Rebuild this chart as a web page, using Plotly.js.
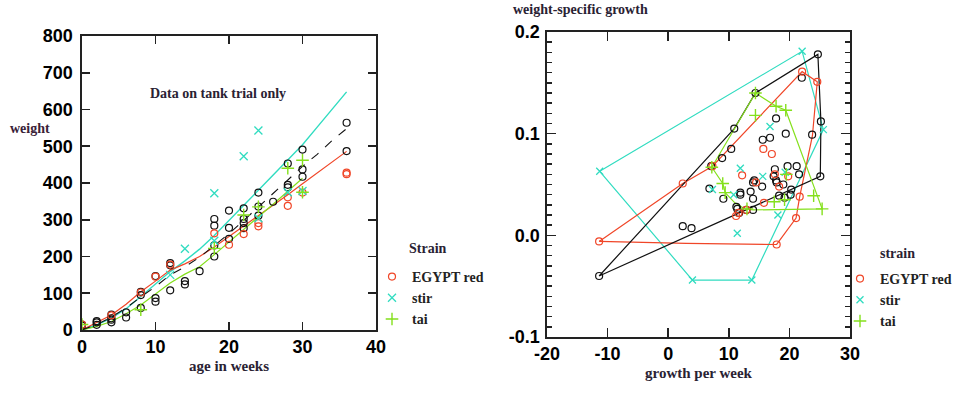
<!DOCTYPE html>
<html>
<head>
<meta charset="utf-8">
<script src="https://cdn.plot.ly/plotly-3.0.1.min.js"></script>
<style>html,body{margin:0;padding:0;background:#fff;}#chart{width:960px;height:393px;}</style>
</head>
<body>
<div id="chart"></div>
<script>
// ---------- Left panel: weight vs age ----------
const fitWeeks = [0,2,4,6,8,10,12,14,16,18,20,22,24,26,28,30,32,34,36];
const stirFit  = [0,14,32,58,91,125,159,188,220,257,298,339,380,421,462,504,552,600,648];
const egyptFit = [0,20,41,70,104,133,163,180,200,226,254,282,310,339,368,398,428,457,486];
const allFit   = [0,15,35,60,90,118,150,172,198,230,262,298,335,372,408,445,478,515,548];
const taiFitWeeks = [0,2,4,6,8,10,12,14,16,18,20,22,24,26,28,30];
const taiFit   = [0,10,23,44,68,97,128,152,172,205,240,274,308,342,377,413];

const allAge    = [0,0,2,2,2,4,4,4,4,6,6,8,8,8,10,10,10,12,12,12,14,14,16,18,18,18,18,20,20,20,22,22,22,22,24,24,24,26,28,28,28,30,30,30,36,36];
const allWeight = [15,12,21,14,24,42,32,21,28,48,34,104,95,60,147,87,77,182,176,108,133,124,160,302,284,230,200,325,278,248,331,302,291,277,374,336,311,349,453,395,388,491,437,417,564,487];
const egyptAge    = [0,4,8,10,12,18,20,22,24,24,28,28,30,36,36];
const egyptWeight = [15,40,102,145,178,263,232,261,291,282,361,338,374,428,424];
const stirAge    = [12,14,18,18,22,24,24,28,30];
const stirWeight = [150,221,372,243,473,543,304,375,378];
const taiAge    = [0,8,18,22,24,28,30,30];
const taiWeight = [15,55,222,313,335,440,462,375];

// ---------- Right panel: weight-specific growth vs growth per week ----------
const allGrowth = [24.7,22.05,25.2,23.75,17.8,19.4,16.8,15.6,10.9,14.4,10.4,8.9,7.1,6.8,9.1,11.9,11.9,14.2,14.0,13.6,14.0,15.5,17.6,17.4,17.8,17.9,19.0,19.7,21.2,21.6,20.3,19.2,18.3,20.2,25.1,11.25,11.4,11.7,12.9,14.0,2.4,3.85,-11.4];
const allSpec   = [0.178,0.155,0.112,0.099,0.115,0.100,0.096,0.094,0.105,0.140,0.085,0.076,0.068,0.046,0.036,0.042,0.040,0.054,0.052,0.043,0.036,0.048,0.065,0.058,0.054,0.052,0.050,0.068,0.068,0.060,0.045,0.037,0.039,0.040,0.058,0.028,0.026,0.022,0.025,0.025,0.009,0.007,-0.040];
const allHullX = [-11.4,10.9,14.4,24.7,25.2,25.1,-11.4];
const allHullY = [-0.040,0.105,0.140,0.178,0.112,0.058,-0.040];

const egyptGrowth = [-11.4,2.4,7.3,22.1,24.6,15.7,17.1,12.2,19.8,18.3,14.5,15.8,11.6,11.2,21.7,21.1,17.9,12.9,17.6];
const egyptSpec   = [-0.006,0.051,0.068,0.161,0.151,0.085,0.080,0.059,0.058,0.048,0.052,0.032,0.022,0.019,0.038,0.017,-0.009,0.025,0.060];
const egyptHullX = [-11.4,2.4,7.3,22.1,24.6,23.8,21.7,21.1,17.9,3.0,-11.4];
const egyptHullY = [-0.006,0.051,0.068,0.161,0.151,0.098,0.038,0.017,-0.009,-0.008,-0.006];

const stirGrowth = [-11.3,22.1,25.6,13.8,4.0,16.8,11.9,15.6,11.4,18.1,7.3,19.3,10.8];
const stirSpec   = [0.063,0.181,0.104,-0.044,-0.044,0.107,0.066,0.058,0.002,0.020,0.045,0.062,0.040];
const stirHullX = [-11.3,22.1,25.6,13.8,4.0,-11.3];
const stirHullY = [0.063,0.181,0.104,-0.044,-0.044,0.063];

const taiGrowth = [7.2,14.4,17.8,19.4,25.4,24.0,9.0,9.4,17.5,19.2,19.5,13.0,14.4];
const taiSpec   = [0.067,0.118,0.127,0.123,0.026,0.039,0.051,0.042,0.033,0.035,0.060,0.026,0.140];
const taiHullX = [7.2,14.4,17.8,19.4,25.4,14.0,12.7,11.0,9.4,9.0,7.2];
const taiHullY = [0.067,0.140,0.127,0.123,0.026,0.025,0.026,0.032,0.042,0.051,0.067];

const yTick2Vals = [-0.1,0,0.1,0.2];
const yTick2Text = ['-0.1','0.0','0.1','0.2'];
const xTick2Vals = [-20,-10,0,10,20,30];
const xTick2Text = ['-20','-10','0','10','20','30'];

// ---------- styles ----------
const RED = '#f04628', CYAN = '#30dcc0', GREEN = '#84e01c', BLACK = '#111';
const serif = 'Liberation Serif, Times New Roman, serif';
const tickFont = {family:'Liberation Sans Narrow, Liberation Sans, Arial, sans-serif', size:18, color:'#000', weight:'bold'};
const txtFont = {family:serif, size:15, color:'#2a2233', weight:'bold'};

function circ(color){ return {symbol:'circle-open', size:7, color:color, line:{width:1.2, color:color}}; }

const traces = [
  // left fits
  {x:fitWeeks, y:stirFit, mode:'lines', line:{color:CYAN, width:1.4}, showlegend:false, xaxis:'x', yaxis:'y', hoverinfo:'skip'},
  {x:fitWeeks, y:egyptFit, mode:'lines', line:{color:RED, width:1.2}, showlegend:false, xaxis:'x', yaxis:'y', hoverinfo:'skip'},
  {x:taiFitWeeks, y:taiFit, mode:'lines', line:{color:GREEN, width:1.2}, showlegend:false, xaxis:'x', yaxis:'y', hoverinfo:'skip'},
  {x:fitWeeks, y:allFit, mode:'lines', line:{color:BLACK, width:1.1, dash:'9px,9px'}, showlegend:false, xaxis:'x', yaxis:'y', hoverinfo:'skip'},
  // left points
  {x:allAge, y:allWeight, mode:'markers', marker:circ(BLACK), showlegend:false, xaxis:'x', yaxis:'y', name:'all'},
  {x:egyptAge, y:egyptWeight, mode:'markers', marker:circ(RED), name:'EGYPT red', legend:'legend', xaxis:'x', yaxis:'y'},
  {x:stirAge, y:stirWeight, mode:'markers', marker:{symbol:'x-thin-open', size:8, line:{color:CYAN, width:1.3}, color:CYAN}, name:'stir', legend:'legend', xaxis:'x', yaxis:'y'},
  {x:taiAge, y:taiWeight, mode:'markers', marker:{symbol:'cross-thin-open', size:9, line:{color:GREEN, width:1.4}, color:GREEN}, name:'tai', legend:'legend', xaxis:'x', yaxis:'y'},
  // right hulls
  {x:stirHullX, y:stirHullY, mode:'lines', line:{color:CYAN, width:1.2}, showlegend:false, xaxis:'x2', yaxis:'y2', hoverinfo:'skip'},
  {x:egyptHullX, y:egyptHullY, mode:'lines', line:{color:RED, width:1.2}, showlegend:false, xaxis:'x2', yaxis:'y2', hoverinfo:'skip'},
  {x:allHullX, y:allHullY, mode:'lines', line:{color:BLACK, width:1.2}, showlegend:false, xaxis:'x2', yaxis:'y2', hoverinfo:'skip'},
  {x:taiHullX, y:taiHullY, mode:'lines', line:{color:GREEN, width:1.2}, showlegend:false, xaxis:'x2', yaxis:'y2', hoverinfo:'skip'},
  // right points
  {x:allGrowth, y:allSpec, mode:'markers', marker:circ(BLACK), showlegend:false, xaxis:'x2', yaxis:'y2', name:'all'},
  {x:egyptGrowth, y:egyptSpec, mode:'markers', marker:circ(RED), name:'EGYPT red', legend:'legend2', xaxis:'x2', yaxis:'y2'},
  {x:stirGrowth, y:stirSpec, mode:'markers', marker:{symbol:'x-thin-open', size:7, line:{color:CYAN, width:1.3}, color:CYAN}, name:'stir', legend:'legend2', xaxis:'x2', yaxis:'y2'},
  {x:taiGrowth, y:taiSpec, mode:'markers', marker:{symbol:'cross-thin-open', size:9, line:{color:GREEN, width:1.4}, color:GREEN}, name:'tai', legend:'legend2', xaxis:'x2', yaxis:'y2'}
];

const axBase = {showline:true, linecolor:'#222', linewidth:1.6, mirror:'ticks', ticks:'inside', tickcolor:'#222', tickwidth:1.6, showgrid:false, zeroline:false, tickfont:tickFont, fixedrange:true};

const legendBase = {bgcolor:'rgba(0,0,0,0)', font:{family:serif, size:14, color:'#222', weight:'bold'}, itemwidth:30, tracegroupgap:0, xanchor:'left', yanchor:'top'};

const layout = {
  width:960, height:393,
  margin:{l:0, r:0, t:0, b:0},
  paper_bgcolor:'#fff', plot_bgcolor:'#fff',
  title:{text:'weight-specific growth', x:513/960, xanchor:'left', y:1-9/393, yanchor:'middle', font:{family:serif, size:14, color:'#2a2233', weight:'bold'}},
  xaxis:Object.assign({}, axBase, {domain:[82/960, 376/960], anchor:'y', range:[0,40], dtick:10, ticklen:8,
    title:{text:'age in weeks', font:txtFont, standoff:4}}),
  yaxis:Object.assign({}, axBase, {domain:[1-330/393, 1-36/393], anchor:'x', range:[0,800], dtick:100, ticklen:8, ticklabelstandoff:4}),
  xaxis2:Object.assign({}, axBase, {domain:[547/960, 850/960], anchor:'y2', range:[-20,30], tickvals:xTick2Vals, ticktext:xTick2Text, ticklen:9,
    title:{text:'growth per week', font:txtFont, standoff:4}}),
  yaxis2:Object.assign({}, axBase, {domain:[1-337/393, 1-32/393], anchor:'x2', range:[-0.1,0.2], tickvals:yTick2Vals, ticktext:yTick2Text, ticklen:9, ticklabelstandoff:2,
    minor:{dtick:0.01, ticks:'inside', ticklen:5, tickcolor:'#222', tickwidth:1.4, showgrid:false}}),
  legend:Object.assign({}, legendBase, {x:372/960, y:1-261/393}),
  legend2:Object.assign({}, legendBase, {x:840/960, y:1-263/393}),
  annotations:[
    {text:'Data on tank trial only', xref:'paper', yref:'paper', x:218/960, y:1-93/393, showarrow:false, xanchor:'center', yanchor:'middle', font:{family:serif, size:14, color:'#2a2233', weight:'bold'}},
    {text:'weight', xref:'paper', yref:'paper', x:8/960, y:1-128/393, showarrow:false, xanchor:'left', yanchor:'middle', font:{family:serif, size:14, color:'#3a2238', weight:'bold'}},
    {text:'Strain', xref:'paper', yref:'paper', x:407/960, y:1-248/393, showarrow:false, xanchor:'left', yanchor:'middle', font:{family:serif, size:14, color:'#2a2233', weight:'bold'}},
    {text:'strain', xref:'paper', yref:'paper', x:878/960, y:1-253/393, showarrow:false, xanchor:'left', yanchor:'middle', font:{family:serif, size:14, color:'#2a2233', weight:'bold'}}
  ]
};

Plotly.newPlot('chart', traces, layout, {displayModeBar:false, staticPlot:true});
</script>
</body>
</html>
